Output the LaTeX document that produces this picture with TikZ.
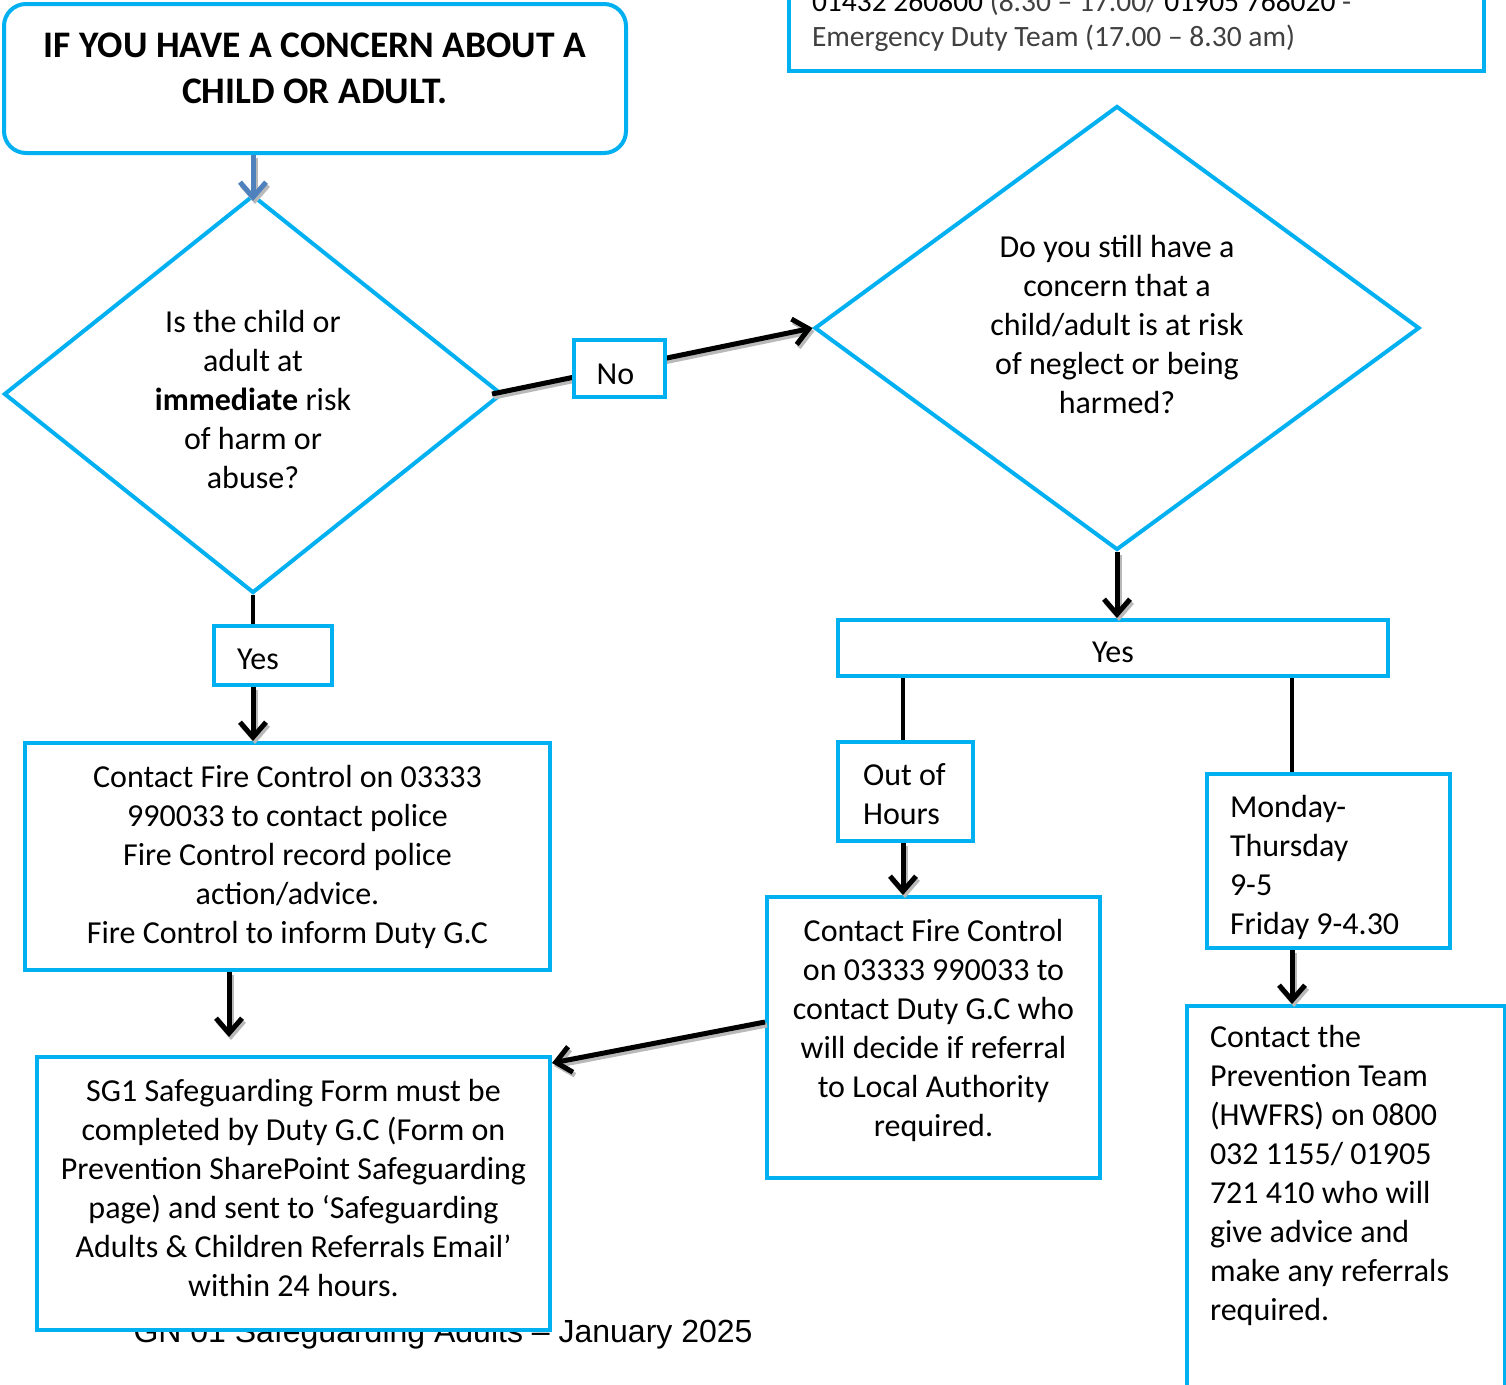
\documentclass[tikz,border=0pt]{standalone}
\usepackage{fontspec}
\setmainfont{Carlito}
\newfontfamily\footfont{Liberation Sans}
\usetikzlibrary{arrows.meta,shapes.geometric}
\definecolor{boxblue}{HTML}{00B0F0}
\definecolor{startarr}{HTML}{4F81BD}
\definecolor{softtext}{HTML}{404040}
\tikzset{
  flowbox/.style  = {draw=boxblue,line width=4pt,fill=white,inner sep=0pt,align=center,
                     font=\fontsize{32}{39}\selectfont},
  decision/.style = {flowbox,diamond,shape aspect=1.25},
  flowarr/.style  = {-{Straight Barb[length=15pt,width=26pt]},line width=5pt},
  linkline/.style = {line width=4.5pt}
}
% arrow with a grey drop shadow under it
\newcommand{\shadowlink}[3][black]{%
  \draw[flowarr,gray!55,transform canvas={shift={(2pt,-3pt)}}] #2 -- #3;
  \draw[flowarr,#1] #2 -- #3;
}
\begin{document}
\begin{tikzpicture}[x=1pt,y=-1pt]
  \useasboundingbox (0,0) rectangle (1506,1384);
  \clip (0,0) rectangle (1506,1384);
  % page footer, half hidden behind the SG1 box
  \node[anchor=base west,font=\footfont\fontsize{32}{38}\selectfont] (footer) at (130,1342)
    {GN 01 Safeguarding Adults – January 2025};
  \node[flowbox,rounded corners=22pt,minimum width=622pt,minimum height=149pt,
        font=\fontsize{37.5}{46}\selectfont\bfseries] (start) at (315,78.5)
    {IF YOU HAVE A CONCERN ABOUT A\\CHILD OR ADULT.\rule[-20pt]{0pt}{0pt}};
  \node[flowbox,anchor=south west,align=flush left,inner xsep=23pt,text width=649pt,
        font=\fontsize{29.5}{35}\selectfont] (duty) at (787,73)
    {\rule{0pt}{80pt}01432 260800 \textcolor{softtext}{(8.30 – 17.00/} 01905 768020 \textcolor{softtext}{-}\\
     \textcolor{softtext}{Emergency Duty Team (17.00 – 8.30 am)}\rule[-25pt]{0pt}{0pt}};
  % the two questions
  \node[decision,minimum width=498pt,minimum height=398pt] (risk) at (253,394)
    {\rule{0pt}{34pt}Is the child or\\adult at\\\textbf{immediate} risk\\of harm or\\abuse?};
  \node[decision,shape aspect=1.36,minimum width=605pt,minimum height=444pt] (still) at (1117,328)
    {Do you still have a\\concern that a\\child/adult is at risk\\of neglect or being\\harmed?\rule[-8pt]{0pt}{0pt}};
  \shadowlink[startarr]{(risk.north |- start.south)}{([yshift=-8pt]risk.north)}
  \shadowlink{([xshift=-12pt]risk.east)}{(still.west)}
  \node[flowbox,minimum width=91pt,minimum height=57pt] (no) at (619.5,368.5) {\rule{0pt}{32pt}No\hspace*{8pt}};
  % immediate risk branch
  \node[flowbox,minimum width=118pt,minimum height=59pt] (yesL) at (273,655.5) {\rule{0pt}{28pt}Yes\hspace*{30pt}};
  \node[flowbox,minimum width=525pt,minimum height=227pt] (fireL) at (287.5,856.5)
    {Contact Fire Control on 03333\\990033 to contact police\\Fire Control record police\\action/advice.\\Fire Control to inform Duty G.C};
  \node[flowbox,minimum width=513pt,minimum height=273pt] (sg1) at (293.5,1193.5)
    {SG1 Safeguarding Form must be\\completed by Duty G.C (Form on\\Prevention SharePoint Safeguarding\\page) and sent to ‘Safeguarding\\Adults \& Children Referrals Email’\\within 24 hours.\rule[-12pt]{0pt}{0pt}};
  \coordinate (sgin) at (229,1037);
  \draw[linkline] (risk.south) -- (risk.south |- yesL.north);
  \shadowlink{(risk.south |- yesL.south)}{(risk.south |- fireL.north)}
  \shadowlink{(sgin |- fireL.south)}{(sgin)}
  % still a concern branch
  \node[flowbox,minimum width=550pt,minimum height=56pt] (yesR) at (1113,648) {\rule{0pt}{30pt}Yes};
  \node[flowbox,align=flush left,minimum width=135pt,minimum height=99pt] (ooh) at (905.5,791.5)
    {\rule{0pt}{28pt}Out of\\Hours\hspace*{8pt}};
  \node[flowbox,minimum width=333pt,minimum height=281pt] (contactR) at (933.5,1037.5)
    {Contact Fire Control\\on 03333 990033 to\\contact Duty G.C who\\will decide if referral\\to Local Authority\\required.\rule[-20pt]{0pt}{0pt}};
  \node[flowbox,align=flush left,text width=197pt,minimum width=243pt,minimum height=174pt] (mon) at (1328.5,861)
    {\rule{0pt}{36pt}Monday-\\Thursday\\9-5\\Friday 9-4.30};
  \node[flowbox,anchor=north west,align=flush left,inner xsep=23pt,text width=272pt] (prev) at (1185,1004)
    {\rule{0pt}{41pt}Contact the\\Prevention Team\\(HWFRS) on 0800\\032 1155/ 01905\\721 410 who will\\give advice and\\make any referrals\\required.\rule[-200pt]{0pt}{0pt}};
  \shadowlink{(still.south)}{(still.south |- yesR.north)}
  \draw[linkline] ([xshift=-2.5pt]ooh.north |- yesR.south) -- ([xshift=-2.5pt]ooh.north);
  \shadowlink{([xshift=-2.5pt]ooh.south)}{([xshift=-2.5pt]ooh.south |- contactR.north)}
  \shadowlink{([yshift=15.5pt]contactR.west)}{([yshift=-8pt]sg1.north east)}
  \draw[linkline] ([xshift=-36.5pt]mon.north |- yesR.south) -- ([xshift=-36.5pt]mon.north);
  \shadowlink{([xshift=-36.5pt]mon.south)}{([xshift=-36.5pt]mon.south |- prev.north)}
\end{tikzpicture}
\end{document}
